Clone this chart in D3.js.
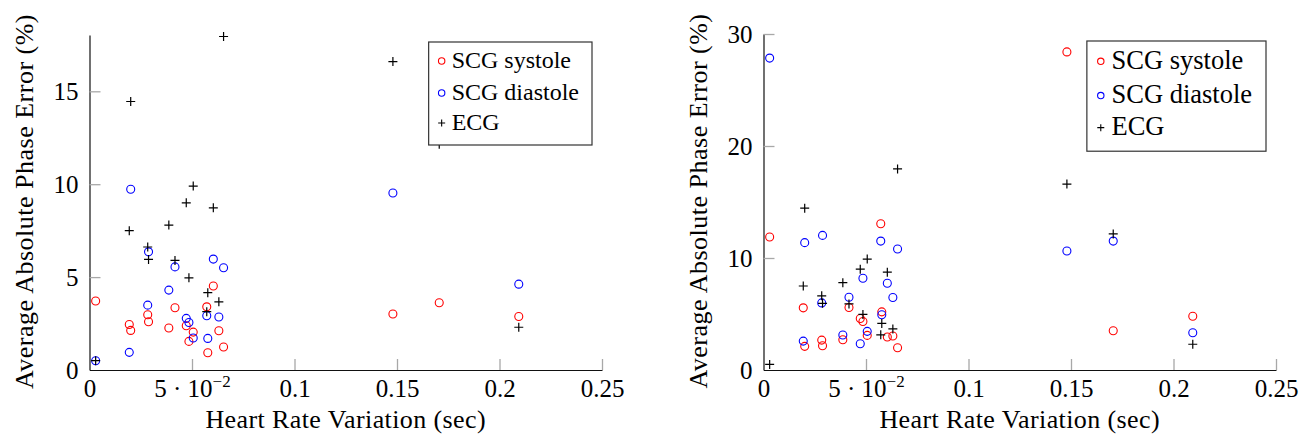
<!DOCTYPE html>
<html>
<head>
<meta charset="utf-8">
<script src="https://cdn.jsdelivr.net/npm/d3@7"></script>
<style>
  body { margin: 0; background: #fff; }
  svg text { font-family: "Liberation Serif", "Times New Roman", serif; fill: #000; }
</style>
</head>
<body>
<svg id="chart" width="1301" height="442"></svg>
<script>
// Heart rate variation per subject (sec), shared by both panels
const hrv = [0.003, 0.0194, 0.0201, 0.0284, 0.0288, 0.0387, 0.0417, 0.0472, 0.0485,
  0.0506, 0.0572, 0.0577, 0.0604, 0.0631, 0.0654, 0.148, 0.1706, 0.2094];

// ECG error (%), same in both panels
const ecg = [0.5, 7.5, 14.45, 6.62, 5.95, 7.8, 5.9, 9.0, 4.96,
  9.9, 3.14, 4.16, 8.73, 3.67, 17.95, 16.6, 12.15, 2.3];

// left panel
const leftSystole = [3.71, 2.45, 2.13, 2.97, 2.6, 2.26, 3.35, 2.38, 1.54,
  2.04, 3.4, 0.93, 4.52, 2.11, 1.24, 3.01, 3.62, 2.88];
const leftDiastole = [0.5, 0.95, 9.73, 3.49, 6.36, 4.3, 5.55, 2.78, 2.56,
  1.72, 2.92, 1.7, 5.97, 2.85, 5.5, 9.53, null, 4.62];

// right panel
const rightSystole = [11.87, 5.55, 2.11, 2.67, 2.16, 2.7, 5.58, 4.6, 4.33,
  3.09, 13.06, 5.19, 2.94, 3.03, 1.99, 28.4, 3.5, 4.8];
const rightDiastole = [27.85, 2.58, 11.37, 5.99, 12.02, 3.12, 6.5, 2.34, 8.19,
  3.45, 11.51, 4.93, 7.75, 6.47, 10.8, 10.62, 11.51, 3.32];

const xTicks = [0, 0.05, 0.1, 0.15, 0.2, 0.25];
const leftYTicks = [0, 5, 10, 15];
const rightYTicks = [0, 10, 20, 30];
const seriesNames = ["SCG systole", "SCG diastole", "ECG"];

const svg = d3.select("#chart");

const panels = [
  { left: 89.5, right: 602, bottom: 370, top: 35, yMax: 18.03, yTicks: leftYTicks,
    systole: leftSystole, diastole: leftDiastole, legendFont: 24, legendScale: 1 },
  { left: 763.5, right: 1276, bottom: 370, top: 34, yMax: 30, yTicks: rightYTicks,
    systole: rightSystole, diastole: rightDiastole, legendFont: 26.5, legendScale: 1.07 }
];

const plusPath = r => `M${-r},0H${r}M0,${-r}V${r}`;

panels.forEach(p => {
  const x = d3.scaleLinear().domain([0, 0.25]).range([p.left, p.right]);
  const y = d3.scaleLinear().domain([0, p.yMax]).range([p.bottom, p.top]);
  const g = svg.append("g");

  //--------------------------------//
  // axes
  //--------------------------------//
  const xAxis = g.append("g")
    .attr("transform", `translate(0,${p.bottom})`)
    .call(d3.axisBottom(x).tickValues(xTicks).tickSize(-11).tickSizeOuter(0).tickPadding(9)
      .tickFormat(d => d === 0.05 ? "" : d3.format("")(d)));

  xAxis.selectAll(".tick text").filter(d => d === 0.05).each(function () {
    const t = d3.select(this);
    t.append("tspan").text("5 · 10");
    t.append("tspan").attr("font-size", 17).attr("dy", "-0.55em").text("−2");
  });

  const yAxis = g.append("g")
    .attr("transform", `translate(${p.left},0)`)
    .call(d3.axisLeft(y).tickValues(p.yTicks).tickSize(-11).tickSizeOuter(0).tickPadding(11));

  [xAxis, yAxis].forEach(a => {
    a.select(".domain").attr("stroke", "#111").attr("stroke-width", 1.2);
    a.selectAll(".tick line").attr("stroke", "#a8a8a8").attr("stroke-width", 1.3);
    a.selectAll(".tick text").attr("font-size", 25)
      .attr("font-family", '"Liberation Serif", serif').attr("fill", "#000");
  });
  xAxis.selectAll(".tick").filter(d => d === 0).select("line").remove();
  yAxis.selectAll(".tick").filter(d => d === 0).select("line").remove();

  g.append("text")
    .attr("x", (p.left + p.right) / 2).attr("y", 428)
    .attr("text-anchor", "middle").attr("font-size", 26).attr("letter-spacing", 0.4)
    .text("Heart Rate Variation (sec)");

  g.append("text")
    .attr("transform", `translate(${p.left - 66},${(p.top + p.bottom) / 2 - 1}) rotate(-90)`)
    .attr("text-anchor", "middle").attr("dy", "0.35em").attr("font-size", 26)
    .attr("letter-spacing", 0.5)
    .text("Average Absolute Phase Error (%)");

  //--------------------------------//
  // marks
  //--------------------------------//
  const pts = arr => hrv.map((h, i) => ({ h, v: arr[i] })).filter(d => d.v != null);

  g.append("g").selectAll("circle").data(pts(p.systole)).join("circle")
    .attr("cx", d => x(d.h)).attr("cy", d => y(d.v)).attr("r", 4)
    .attr("fill", "none").attr("stroke", "#ff0000").attr("stroke-width", 1.1);

  g.append("g").selectAll("circle").data(pts(p.diastole)).join("circle")
    .attr("cx", d => x(d.h)).attr("cy", d => y(d.v)).attr("r", 4)
    .attr("fill", "none").attr("stroke", "#0000ff").attr("stroke-width", 1.1);

  g.append("g").selectAll("path").data(pts(ecg)).join("path")
    .attr("transform", d => `translate(${x(d.h)},${y(d.v)})`)
    .attr("d", plusPath(4.5)).attr("stroke", "#000").attr("stroke-width", 1.2);

  //--------------------------------//
  // legend
  //--------------------------------//
  const s = p.legendScale;
  const leg = g.append("g");
  const box = leg.append("rect").attr("fill", "#fff").attr("stroke", "#333").attr("stroke-width", 1.2);
  const rows = [26, 58, 88].map(v => v * s);
  const texts = seriesNames.map((name, i) => leg.append("text")
    .attr("x", 23 * s).attr("y", rows[i]).attr("font-size", p.legendFont).text(name));
  const w = d3.max(texts, t => t.node().getComputedTextLength()) + 23 * s + 13 * s;
  const h = 103 * s;
  box.attr("width", w).attr("height", h);
  const mx = 13 * s;
  leg.append("circle").attr("cx", mx).attr("cy", rows[0] - 7 * s).attr("r", 3.2)
    .attr("fill", "none").attr("stroke", "#ff0000").attr("stroke-width", 1.1);
  leg.append("circle").attr("cx", mx).attr("cy", rows[1] - 7 * s).attr("r", 3.2)
    .attr("fill", "none").attr("stroke", "#0000ff").attr("stroke-width", 1.1);
  leg.append("path").attr("transform", `translate(${mx},${rows[2] - 7 * s})`)
    .attr("d", plusPath(3.5)).attr("stroke", "#000").attr("stroke-width", 1.1);
  leg.attr("transform", `translate(${p.right - 10 - w},${p.top + 7})`);
});
</script>
</body>
</html>
